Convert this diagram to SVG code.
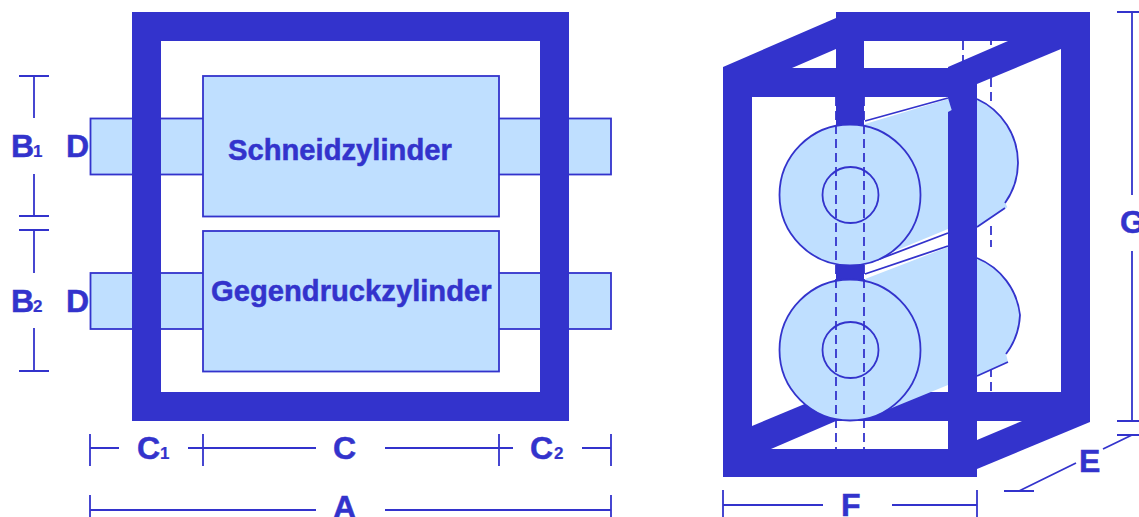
<svg xmlns="http://www.w3.org/2000/svg" width="1139" height="517" viewBox="0 0 1139 517">
<style>
.f{fill:#3333CC}
.l{fill:#BFDFFF}
.b{fill:#BFDFFF;stroke:#3333CC;stroke-width:1.8}
.d{fill:none;stroke:#3333CC;stroke-width:1.8}
.da{fill:none;stroke:#3333CC;stroke-width:1.8;stroke-dasharray:9 5}
text{font-family:"Liberation Sans",Arial,sans-serif;font-weight:700;fill:#3333CC;stroke:#3333CC;stroke-width:.5}
.t{font-size:29.2px}
.m{font-size:32px}
.s{font-size:17px;stroke-width:.2}
</style>
<rect width="1139" height="517" fill="#fff"/>
<g id="left-view">
<g id="journal-top"><rect class="b" x="90.500" y="118.500" width="520.500" height="56"/></g>
<g id="journal-bottom"><rect class="b" x="90.500" y="273" width="520.500" height="56"/></g>
<g id="frame-front"><path class="f" fill-rule="evenodd" d="M132 12H569V421H132ZM161 41V392H540V41Z"/></g>
<g id="schneidzylinder"><rect class="b" x="203" y="76" width="296" height="140.500"/><text class="t" x="228" y="160">Schneidzylinder</text></g>
<g id="gegendruckzylinder"><rect class="b" x="203" y="231" width="296" height="140.500"/><text class="t" x="211" y="301">Gegendruckzylinder</text></g>
</g>
<g id="right-view">
<g id="back-frame">
<rect class="f" x="836" y="12" width="254" height="29"/>
<rect class="f" x="1061" y="12" width="29" height="409"/>
<rect class="f" x="836" y="12" width="28" height="118"/>
<rect class="f" x="836" y="250" width="28" height="40"/>
<rect class="f" x="836" y="392" width="254" height="29"/>
</g>
<g id="side-bars">
<path class="f" d="M723 67L836 18V49L792 68H723Z"/>
<path class="f" d="M948 67L1008 41H1061V49L977 84H948Z"/>
<path class="f" d="M752 426L836 391V421L771 449H752Z"/>
<path class="f" d="M977 440L1022 421H1090V422L977 469Z"/>
</g>
<g id="dashes-back">
<path class="da" d="M963 41V67"/>
<path class="da" d="M991 41V45M991 78V106M991 226V247M991 368V392"/>
</g>
<g id="cylinder-top">
<path class="l" d="M865 124L948 99L978 99A70 70 0 0 1 1018 163A70 70 0 0 1 1005 202L1007.300 207.300L977 226L948 229L890 253L850 200Z"/>
<path class="d" d="M865 121L948 98M977 99A70 70 0 0 1 1018 163A70 70 0 0 1 1005 203M1005 208L977 227M877 260L948 233"/>
<circle class="b" cx="850" cy="195" r="70.500"/>
<circle class="d" cx="850.500" cy="195" r="28"/>
</g>
<g id="cylinder-bottom">
<path class="l" d="M865 279L948 247L978 258A70 70 0 0 1 1020 315A70 70 0 0 1 1006 354L1008 362L977 376L948 385L877 414L850 350Z"/>
<path class="d" d="M865 274L948 246M977 258A70 70 0 0 1 1020 315A70 70 0 0 1 1006 354M1008 362L977 376"/>
<circle class="b" cx="850" cy="350" r="70.500"/>
<circle class="d" cx="850.500" cy="350" r="28"/>
</g>
<g id="dashes-front"><path class="da" d="M836 97V449M864 97V449"/></g>
<g id="front-frame">
<path class="f" fill-rule="evenodd" d="M723 68H977V477H723ZM752 97V449H948V97Z"/>
</g>
<path class="l" d="M948 98L951.700 110L948 112Z"/>
</g>
<g id="connectors">
<path class="d" d="M19 76H49M34 76V118M34 174V216M19 216H49M19 230H49M34 230V273M34 328V371M19 371H49"/>
<path class="d" d="M90 434V466M90 448H119M188 448H316M385 448H513M582 448H611M203 434V466M499 434V466M611 434V466"/>
<path class="d" d="M90 495V517M90 510H316M385 510H611M611 495V517"/>
<path class="d" d="M723 490V517M723 505H823M892 505H977M977 490V517"/>
<path class="d" d="M1117 12H1139M1132 12V195M1132 251V421M1117 421H1139M1117 435H1139M1132 435L1103 449M1076 463L1019 491M1004 491H1034"/>
</g>
<g id="labels">
<text class="m" x="11" y="157">B</text><text class="s" x="33" y="157">1</text>
<text class="m" x="66" y="157">D</text>
<text class="m" x="11" y="312">B</text><text class="s" x="33" y="312">2</text>
<text class="m" x="66" y="312">D</text>
<text class="m" x="137" y="459">C</text><text class="s" x="160" y="459">1</text>
<text class="m" x="333" y="459">C</text>
<text class="m" x="530" y="459">C</text><text class="s" x="554" y="459">2</text>
<text class="m" x="333" y="518">A</text>
<text class="m" x="841" y="516">F</text>
<text class="m" x="1079" y="472">E</text>
<text class="m" x="1120" y="233">G</text>
</g>
</svg>
